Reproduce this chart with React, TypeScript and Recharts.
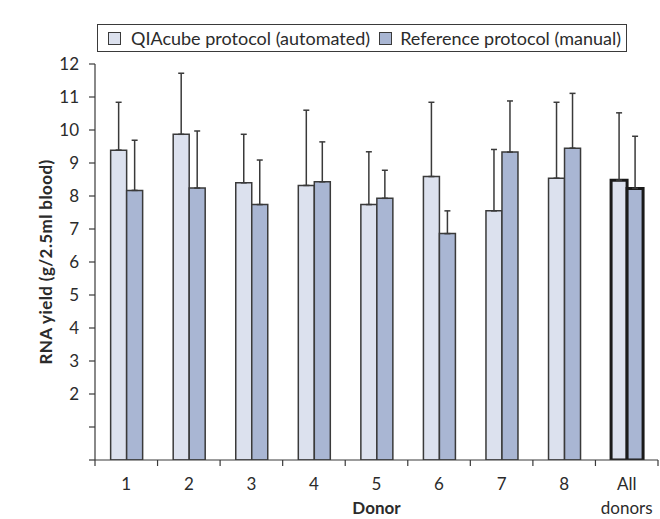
import { BarChart, Bar, Cell, XAxis, YAxis, ErrorBar, Label } from "recharts";

const donors = ["1", "2", "3", "4", "5", "6", "7", "8", "All"];
const qiacube = [9.39, 9.87, 8.4, 8.32, 7.74, 8.59, 7.55, 8.54, 8.48];
const qiacubeSd = [1.45, 1.85, 1.47, 2.28, 1.6, 2.25, 1.86, 2.3, 2.04];
const reference = [8.17, 8.24, 7.74, 8.43, 7.93, 6.86, 9.33, 9.45, 8.23];
const referenceSd = [1.52, 1.73, 1.35, 1.21, 0.85, 0.69, 1.55, 1.66, 1.58];
const yTicks = [0, 1, 2, 3, 4, 5, 6, 7, 8, 9, 10, 11, 12];

const data = donors.map((d, i) => ({
  donor: d,
  qiacube: qiacube[i],
  qiacubeErr: [0, qiacubeSd[i]],
  reference: reference[i],
  referenceErr: [0, referenceSd[i]],
}));

const FONT = "Lato, 'Open Sans', sans-serif";
const TEXT = "#2b2b2b";
const LIGHT = "#dce1ee";
const DARK = "#a9b6d3";
const EDGE = "#3a3a3a";

const DonorTick = (props: any) => {
  const { x, y, payload, index } = props;
  const half = payload.offset ?? 31;
  const last = index === donors.length - 1;
  return (
    <g>
      <line x1={x - half} y1={y} x2={x - half} y2={y + 6} stroke={EDGE} strokeWidth={1.2} />
      {last && <line x1={x + half} y1={y} x2={x + half} y2={y + 6} stroke={EDGE} strokeWidth={1.2} />}
      {payload.value === "All" ? (
        <text x={x} textAnchor="middle" fill={TEXT} fontSize={17} fontFamily={FONT}>
          <tspan x={x} y={y + 30}>All</tspan>
          <tspan x={x} y={y + 54}>donors</tspan>
        </text>
      ) : (
        <text x={x} y={y + 30} textAnchor="middle" fill={TEXT} fontSize={17} fontFamily={FONT}>
          {payload.value}
        </text>
      )}
    </g>
  );
};

const LegendBox = () => (
  <div
    style={{
      position: "absolute",
      left: 97,
      top: 24,
      width: 530,
      height: 28,
      border: "1.5px solid #3a3a3a",
      display: "flex",
      alignItems: "center",
      fontFamily: FONT,
      fontSize: 18,
      color: TEXT,
      boxSizing: "border-box",
      paddingLeft: 10,
      whiteSpace: "nowrap",
    }}
  >
    <span style={{ width: 11, height: 11, background: LIGHT, border: `1.2px solid ${EDGE}`, marginRight: 10 }} />
    <span style={{ marginRight: 9 }}>QIAcube protocol (automated)</span>
    <span style={{ width: 11, height: 11, background: DARK, border: `1.2px solid ${EDGE}`, marginRight: 8 }} />
    <span>Reference protocol (manual)</span>
  </div>
);

export default function App() {
  return (
    <div style={{ position: "absolute", left: 0, top: 0, width: 660, height: 519, background: "#fff" }}>
      <LegendBox />
      <BarChart
        width={660}
        height={519}
        data={data}
        margin={{ top: 64, right: 2, bottom: 0, left: 0 }}
        barCategoryGap="25%"
        barGap={0}
      >
        <XAxis
          dataKey="donor"
          height={59}
          axisLine={{ stroke: EDGE, strokeWidth: 1.2 }}
          tickLine={false}
          tickSize={0}
          tickMargin={0}
          interval={0}
          tick={<DonorTick />}
        >
          <Label
            value="Donor"
            position="insideBottom"
            offset={5}
            fill={TEXT}
            fontFamily={FONT}
            style={{ fontSize: 17, fontWeight: "bold" }}
          />
        </XAxis>
        <YAxis
          width={95}
          domain={[0, 12]}
          ticks={yTicks}
          interval={0}
          allowDataOverflow
          axisLine={{ stroke: EDGE, strokeWidth: 1.2 }}
          tickLine={{ stroke: EDGE, strokeWidth: 1.2 }}
          tickSize={6}
          tickMargin={10}
          tickFormatter={(v: number) => (v >= 2 ? String(v) : "")}
          tick={{ fill: TEXT, fontSize: 17, fontFamily: FONT }}
        >
          <Label
            value="RNA yield (g/2.5ml blood)"
            angle={-90}
            position="insideLeft"
            offset={46}
            fill={TEXT}
            fontSize={17}
            fontWeight="bold"
            fontFamily={FONT}
            style={{ textAnchor: "middle", letterSpacing: 0.4 }}
          />
        </YAxis>
        <Bar dataKey="qiacube" fill={LIGHT} stroke={EDGE} strokeWidth={1.5} isAnimationActive={false}>
          {data.map((d, i) => (
            <Cell key={d.donor} strokeWidth={i === donors.length - 1 ? 3 : 1.5} stroke={i === donors.length - 1 ? "#1a1a1a" : EDGE} />
          ))}
          <ErrorBar dataKey="qiacubeErr" width={3} stroke={EDGE} strokeWidth={1.5} direction="y" />
        </Bar>
        <Bar dataKey="reference" fill={DARK} stroke={EDGE} strokeWidth={1.5} isAnimationActive={false}>
          {data.map((d, i) => (
            <Cell key={d.donor} strokeWidth={i === donors.length - 1 ? 3 : 1.5} stroke={i === donors.length - 1 ? "#1a1a1a" : EDGE} />
          ))}
          <ErrorBar dataKey="referenceErr" width={3} stroke={EDGE} strokeWidth={1.5} direction="y" />
        </Bar>
      </BarChart>
    </div>
  );
}
